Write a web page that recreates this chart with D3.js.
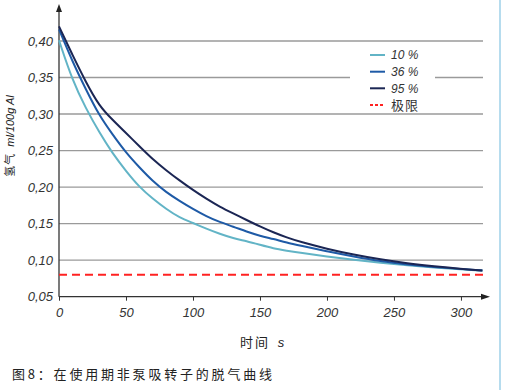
<!DOCTYPE html>
<html><head><meta charset="utf-8">
<script src="https://cdn.jsdelivr.net/npm/d3@7"></script>
<style>
body{margin:0;background:#fff;}
svg{display:block;}
</style></head>
<body>
<svg id="chart" width="509" height="390"></svg>
<script>
const times = [0,10,20,30,40,50,60,70,80,90,100,110,120,130,140,150,160,170,180,200,220,240,260,280,300,316];
const series10 = [0.401,0.346,0.308,0.275,0.246,0.222,0.200,0.184,0.170,0.158,0.151,0.143,0.136,0.130,0.126,0.121,0.116,0.113,0.110,0.105,0.1005,0.0965,0.093,0.090,0.0875,0.0857];
const series36 = [0.416,0.372,0.334,0.298,0.272,0.247,0.227,0.208,0.193,0.181,0.170,0.160,0.152,0.146,0.139,0.1333,0.129,0.124,0.120,0.112,0.105,0.0985,0.094,0.0905,0.088,0.086];
const series95 = [0.420,0.381,0.344,0.311,0.292,0.274,0.256,0.238,0.223,0.209,0.196,0.184,0.173,0.164,0.155,0.146,0.138,0.131,0.125,0.1155,0.1075,0.101,0.0955,0.0915,0.088,0.086];
const limitValue = 0.08;
const seriesNames = ["10 %","36 %","95 %"];
const limitName = "极限";
const seriesColors = ["#62b4c6","#1e5aa6","#1b2654"];
const yTicks = [0.05,0.10,0.15,0.20,0.25,0.30,0.35,0.40];
const xTicks = [0,50,100,150,200,250,300];
const xTitle = "时间";
const xUnit = "s";
const yTitleCn = "氢气";
const yTitleUnit = "ml/100g Al";
const caption = "图8：在使用期非泵吸转子的脱气曲线";

const svg = d3.select("#chart");
const x = d3.scaleLinear().domain([0,316]).range([59,482.4]);
const y = d3.scaleLinear().domain([0.05,0.40]).range([296.7,41]);
const fmt = v => d3.format(".2f")(v).replace(".",",");
const latin = "'Liberation Sans', Arial, sans-serif";
const cjk = "'Noto Sans CJK SC', sans-serif";

// right light-blue border
svg.append("line").attr("x1",500).attr("x2",500).attr("y1",0).attr("y2",390)
  .attr("stroke","#b6dcee").attr("stroke-width",2);

// gridlines
svg.append("g").selectAll("line").data(yTicks.filter(d=>d>0.06)).join("line")
  .attr("x1",x(0)).attr("x2",483).attr("y1",d=>y(d)).attr("y2",d=>y(d))
  .attr("stroke","#9a9a9a").attr("stroke-width",1.4);

// y axis labels
const yAxis = svg.append("g").attr("transform",`translate(${x(0)},0)`)
  .call(d3.axisLeft(y).tickValues(yTicks).tickFormat(fmt).tickSize(0).tickPadding(6));
yAxis.select(".domain").remove();
yAxis.selectAll("text").attr("font-family",latin).attr("font-style","italic")
  .attr("font-size",13).attr("fill","#333");

// x axis
const xAxis = svg.append("g").attr("transform",`translate(0,${y(0.05)})`)
  .call(d3.axisBottom(x).tickValues(xTicks).tickSize(4).tickPadding(7));
xAxis.select(".domain").remove();
xAxis.selectAll("line").attr("stroke","#333");
xAxis.selectAll("text").attr("font-family",latin).attr("font-style","italic")
  .attr("font-size",13).attr("fill","#333");

// axis lines with arrows
svg.append("line").attr("x1",x(0)).attr("x2",482).attr("y1",y(0.05)).attr("y2",y(0.05))
  .attr("stroke","#333").attr("stroke-width",1.3);
svg.append("path").attr("d",`M${490},${y(0.05)} L${481},${y(0.05)-3} L${481},${y(0.05)+3} Z`).attr("fill","#222");
svg.append("line").attr("x1",x(0)).attr("x2",x(0)).attr("y1",y(0.05)).attr("y2",10)
  .attr("stroke","#333").attr("stroke-width",1.3);
svg.append("path").attr("d",`M${x(0)},4 L${x(0)-3},12 L${x(0)+3},12 Z`).attr("fill","#222");

// limit line
svg.append("line").attr("x1",x(0)).attr("x2",483).attr("y1",y(limitValue)).attr("y2",y(limitValue))
  .attr("stroke","#ff2222").attr("stroke-width",2).attr("stroke-dasharray","8,5");

// curves
const line = d3.line().x(d=>x(d[0])).y(d=>y(d[1])).curve(d3.curveBasis);
[series10,series36,series95].forEach((s,i)=>{
  svg.append("path").datum(times.map((t,j)=>[t,s[j]]))
    .attr("d",line).attr("fill","none").attr("stroke",seriesColors[i]).attr("stroke-width",2);
});

// legend
const lg = svg.append("g");
lg.append("rect").attr("x",350).attr("y",46).attr("width",85).attr("height",64).attr("fill","#fff");
const rows = [55,71.7,88.3,105];
seriesNames.forEach((n,i)=>{
  lg.append("line").attr("x1",370).attr("x2",385).attr("y1",rows[i]).attr("y2",rows[i])
    .attr("stroke",seriesColors[i]).attr("stroke-width",2);
  lg.append("text").attr("x",391).attr("y",rows[i]).attr("dy","0.35em").text(n)
    .attr("font-family",latin).attr("font-style","italic").attr("font-size",12).attr("fill","#333");
});
lg.append("line").attr("x1",370).attr("x2",385).attr("y1",rows[3]).attr("y2",rows[3])
  .attr("stroke","#ff2222").attr("stroke-width",2).attr("stroke-dasharray","3,2");
lg.append("text").attr("x",391).attr("y",rows[3]).attr("dy","0.35em").text(limitName)
  .attr("font-family",cjk).attr("font-size",13).attr("fill","#333").attr("letter-spacing",1);

// x title
const xt = svg.append("text").attr("x",240).attr("y",342).attr("dy","0.35em")
  .attr("font-size",13).attr("fill","#222");
xt.append("tspan").text(xTitle).attr("font-family",cjk).attr("letter-spacing",2);
xt.append("tspan").text(" " + xUnit).attr("font-family",latin).attr("font-style","italic").attr("dx",4);

// y title
const yt = svg.append("text").attr("transform","translate(10,136) rotate(-90)")
  .attr("text-anchor","middle").attr("dy","0.35em").attr("font-size",11).attr("fill","#222");
yt.append("tspan").text(yTitleCn).attr("font-family",cjk).attr("letter-spacing",1);
yt.append("tspan").text(yTitleUnit).attr("font-family",latin).attr("font-style","italic").attr("dx",6);

// caption
svg.append("text").attr("x",12).attr("y",374).attr("dy","0.35em").text(caption)
  .attr("font-family",cjk).attr("font-size",13).attr("fill","#222").attr("letter-spacing",2.8);
</script>
</body></html>
